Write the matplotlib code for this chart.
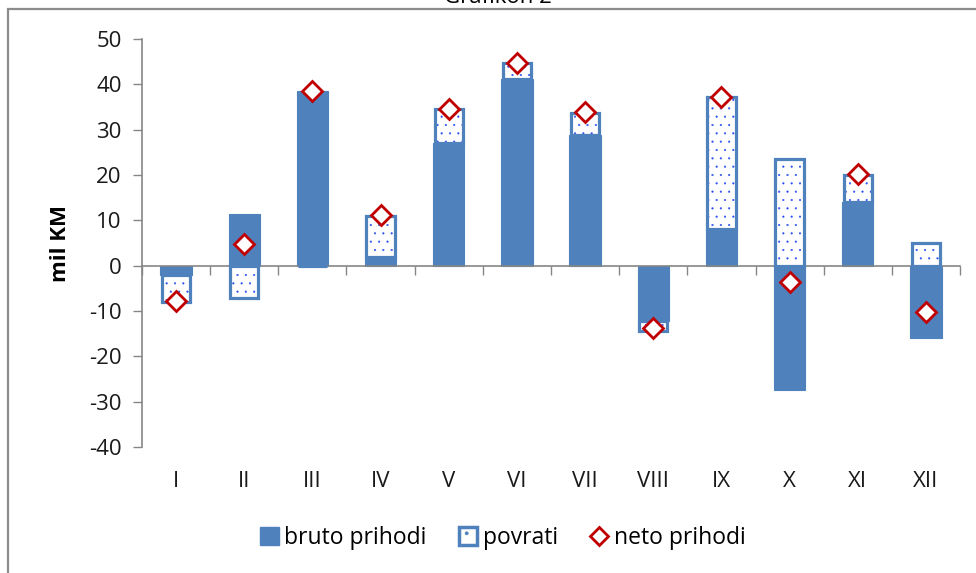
import numpy as np
import matplotlib
matplotlib.use("Agg")
import matplotlib.pyplot as plt
from matplotlib.patches import Patch, Rectangle
from matplotlib.lines import Line2D
from matplotlib.transforms import blended_transform_factory

plt.rcParams['font.family'] = ['Open Sans', 'DejaVu Sans']
plt.rcParams['axes.unicode_minus'] = False
plt.rcParams['hatch.linewidth'] = 0.3

# monthly data, mil KM
months = ['I', 'II', 'III', 'IV', 'V', 'VI', 'VII', 'VIII', 'IX', 'X', 'XI', 'XII']
bruto = [-2.0, 11.5, 38.5, 2.0, 27.0, 41.2, 28.8, -12.3, 8.0, -27.5, 14.0, -16.0]
povrati = [-6.0, -7.2, 0.0, 9.0, 7.6, 3.5, 4.9, -2.1, 29.3, 23.6, 6.1, 5.0]
neto = [-7.8, 4.7, 38.6, 11.1, 34.6, 44.8, 33.9, -13.8, 37.2, -3.5, 20.2, -10.3]

BLUE = '#4F81BD'
DOT = '#2A4FF0'
RED = '#C00000'
GRAY = '#868686'
FS = 16

fig = plt.figure(figsize=(9.76, 5.73), dpi=100)
ax = fig.add_axes([142 / 976, 1 - 447 / 573, (960 - 142) / 976, (447 - 39) / 573])

x = np.arange(len(months))
b = np.array(bruto)
p = np.array(povrati)
# excel-style stacking: same sign stacks on top of bruto, opposite sign starts from zero
bottoms = np.where(np.sign(p) == np.sign(b), b, 0.0)
w = 0.46
wp = w - 0.045  # outline drawn inside the bar footprint

ax.bar(x, b, width=w, color=BLUE, edgecolor=BLUE, linewidth=0.8, zorder=2)
ax.bar(x, p, width=wp, bottom=bottoms, color='white', edgecolor=DOT,
       hatch='..', linewidth=0, zorder=3)
ax.bar(x, p, width=wp, bottom=bottoms, fill=False, edgecolor=BLUE,
       linewidth=2.3, zorder=4)
ax.plot(x, neto, linestyle='none', marker='D', markersize=10.5,
        markerfacecolor='white', markeredgecolor=RED, markeredgewidth=2.0,
        zorder=5)

ax.set_xlim(-0.5, len(months) - 0.5)
ax.set_ylim(-40, 50)
ax.set_yticks(np.arange(-40, 51, 10))
ax.tick_params(axis='y', direction='out', length=6.5, width=1, color=GRAY,
               labelsize=FS, pad=8, labelcolor='#1a1a1a')

# category axis crosses at zero, labels kept at the bottom
ax.spines['top'].set_visible(False)
ax.spines['right'].set_visible(False)
ax.spines['left'].set_color(GRAY)
ax.spines['bottom'].set_color(GRAY)
ax.spines['bottom'].set_position(('data', 0))
ax.spines['left'].set_linewidth(1.2)
ax.spines['bottom'].set_linewidth(1.2)
ax.set_xticks(np.arange(-0.5, len(months), 1.0))
ax.set_xticklabels([])
ax.tick_params(axis='x', direction='out', length=6.5, width=1, color=GRAY)

trans = blended_transform_factory(ax.transData, ax.transAxes)
for xi, m in zip(x, months):
    ax.text(xi, -0.085, m, transform=trans, ha='center', va='center',
            fontsize=FS, color='#1a1a1a')

fig.text(60 / 976, 1 - 244 / 573, 'mil KM', rotation=90, ha='center',
         va='center', fontsize=FS, fontweight='bold')

# title is cropped by the top edge in the source image
fig.text(498 / 976, 1 - 3 / 573, 'Grafikon 2', ha='center', va='baseline',
         fontsize=FS)

# chart border (cropped at right and bottom)
fig.add_artist(Rectangle((8 / 976, -0.2), 1.2, 1 - 9 / 573 + 0.2,
                         transform=fig.transFigure, fill=False,
                         edgecolor='#8c8c8c', linewidth=1.6))

handles = [
    Patch(facecolor=BLUE, edgecolor=BLUE),
    Patch(facecolor='white', edgecolor=BLUE, linewidth=2.5, hatch='.'),
    Line2D([], [], linestyle='none', marker='D', markersize=9,
           markerfacecolor='white', markeredgecolor=RED, markeredgewidth=2),
]
fig.legend(handles, ['bruto prihodi', 'povrati', 'neto prihodi'], loc='center',
           bbox_to_anchor=(503 / 976, 1 - 538 / 573), ncol=3, frameon=False,
           fontsize=16.5, handlelength=0.8, handleheight=0.8, handletextpad=0.25,
           columnspacing=1.4)

fig.savefig('out.png', dpi=100)
